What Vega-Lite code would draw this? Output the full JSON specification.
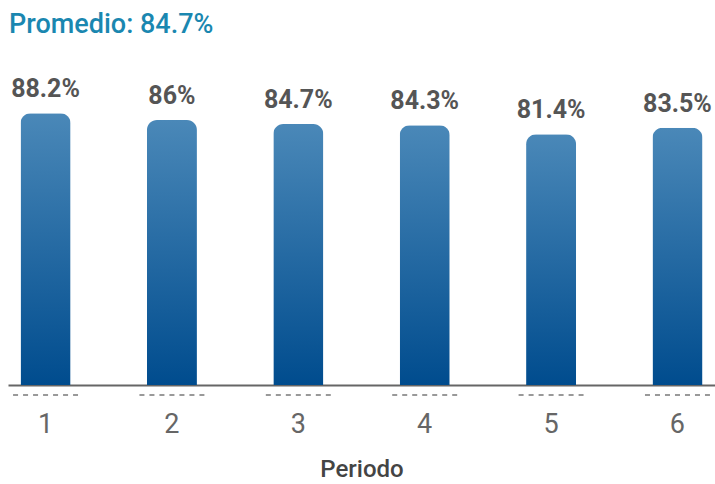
{
  "$schema": "https://vega.github.io/schema/vega-lite/v6.json",
  "autosize": {"type": "none"},
  "width": 707,
  "height": 308,
  "padding": {"left": 8, "top": 77, "right": 0, "bottom": 99},
  "background": "white",
  "config": {"view": {"stroke": null}},
  "title": {
    "text": "Promedio: 84.7%",
    "anchor": "start",
    "frame": "group",
    "offset": 38,
    "font": "Roboto",
    "fontSize": 27,
    "fontWeight": 500,
    "color": "#1a87b0",
    "dx": 1
  },
  "data": {
    "values": [
      {"periodo": "1", "valor": 0.882},
      {"periodo": "2", "valor": 0.86},
      {"periodo": "3", "valor": 0.847},
      {"periodo": "4", "valor": 0.843},
      {"periodo": "5", "valor": 0.814},
      {"periodo": "6", "valor": 0.835}
    ]
  },
  "encoding": {
    "x": {
      "field": "periodo",
      "type": "ordinal",
      "scale": {"paddingInner": 0.486, "paddingOuter": 0.04},
      "axis": {
        "title": "Periodo",
        "labelAngle": 0,
        "domainColor": "#666",
        "domainWidth": 2,
        "ticks": false,
        "labelFont": "Roboto",
        "labelFontSize": 27,
        "labelColor": "#666",
        "labelPadding": 26,
        "titleFont": "Roboto",
        "titleFontSize": 24,
        "titleFontWeight": 500,
        "titleColor": "#444",
        "titlePadding": 20
      }
    }
  },
  "layer": [
    {
      "mark": {
        "type": "bar",
        "width": {"band": 0.77},
        "cornerRadiusTopLeft": 10,
        "cornerRadiusTopRight": 10,
        "color": {
          "gradient": "linear",
          "x1": 0, "y1": 0, "x2": 0, "y2": 1,
          "stops": [
            {"offset": 0, "color": "#4a88b8"},
            {"offset": 1, "color": "#004c8e"}
          ]
        }
      },
      "encoding": {
        "y": {"field": "valor", "type": "quantitative", "scale": {"domain": [0, 1]}, "axis": null}
      }
    },
    {
      "mark": {
        "type": "text",
        "dy": -24,
        "baseline": "middle",
        "font": "Roboto",
        "fontSize": 25,
        "fontWeight": "bold",
        "color": "#555"
      },
      "encoding": {
        "y": {"field": "valor", "type": "quantitative"},
        "text": {"field": "valor", "type": "quantitative", "format": ".1~%"}
      }
    },
    {
      "mark": {"type": "rule", "strokeDash": [5, 5], "strokeWidth": 2, "color": "#999", "yOffset": 10},
      "encoding": {
        "x": {"field": "periodo", "type": "ordinal", "bandPosition": 0},
        "x2": {"field": "periodo", "bandPosition": 1},
        "y": {"datum": 0}
      }
    }
  ]
}
